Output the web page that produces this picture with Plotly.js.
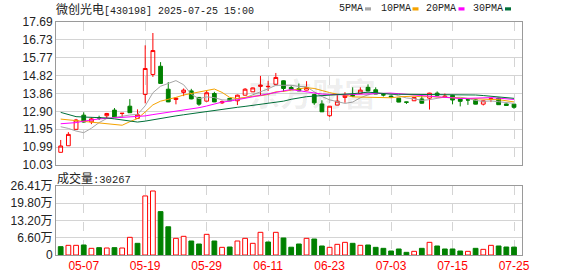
<!DOCTYPE html>
<html><head><meta charset="utf-8">
<script src="https://cdn.plot.ly/plotly-3.0.1.min.js"></script>
<style>html,body{margin:0;padding:0;background:#fff;}#chart{width:578px;height:276px;}</style>
</head><body><div id="chart"></div>
<script>
// ---- data ----
const dates = ['04-29','04-30','05-06','05-07','05-08','05-09','05-12','05-13','05-14','05-15',
 '05-16','05-19','05-20','05-21','05-22','05-23','05-26','05-27','05-28','05-29',
 '05-30','06-03','06-04','06-05','06-06','06-09','06-10','06-11','06-12','06-13',
 '06-16','06-17','06-18','06-19','06-20','06-23','06-24','06-25','06-26','06-27',
 '06-30','07-01','07-02','07-03','07-04','07-07','07-08','07-09','07-10','07-11',
 '07-14','07-15','07-16','07-17','07-18','07-21','07-22','07-23','07-24','07-25'];
const openP = [10.71,11.06,11.94,12.70,12.34,12.57,12.67,12.97,12.79,13.18,
 12.53,13.81,14.88,15.32,14.09,13.54,13.92,14.00,13.65,13.45,
 13.86,13.36,13.60,13.47,13.77,13.95,14.24,14.22,14.35,14.54,
 14.18,14.12,14.04,13.80,13.30,12.67,13.24,13.65,13.76,13.86,
 14.19,14.06,13.80,13.72,13.61,13.41,13.47,13.57,13.61,13.88,
 13.65,13.76,13.57,13.53,13.52,13.29,13.55,13.61,13.30,13.29];
const highP = [11.37,11.79,12.50,12.85,12.58,12.67,12.82,13.08,12.81,13.56,
 13.01,16.44,17.10,15.54,14.47,13.62,14.13,14.11,13.67,14.04,
 13.95,13.48,13.62,13.80,14.15,14.18,14.80,14.54,14.96,14.56,
 14.28,14.40,14.52,13.82,13.50,13.19,13.77,13.93,14.19,14.19,
 14.35,14.19,13.85,13.75,13.62,13.42,13.66,13.76,13.90,13.97,
 13.86,13.78,13.58,13.54,13.55,13.48,13.60,13.63,13.32,13.30];
const lowP = [10.70,11.05,11.93,12.30,12.22,12.44,12.53,12.55,12.58,12.82,
 12.50,13.33,14.75,14.38,13.40,13.28,13.72,13.55,13.20,13.44,
 13.40,13.30,13.45,13.24,13.76,13.94,13.77,13.99,14.34,13.95,
 14.05,13.98,14.03,13.25,12.87,12.61,13.23,13.36,13.68,13.85,
 13.98,13.85,13.70,13.66,13.39,13.30,13.46,13.32,13.00,13.74,
 13.63,13.28,13.17,13.25,13.28,13.22,13.40,13.25,13.20,13.04];
const closeP = [11.05,11.67,12.44,12.33,12.50,12.55,12.79,12.58,12.80,12.83,
 12.72,15.20,16.16,14.40,13.41,13.61,14.04,13.57,13.29,13.90,
 13.41,13.41,13.47,13.77,14.09,14.16,14.31,14.24,14.72,14.13,
 14.09,14.00,14.18,13.36,12.88,13.18,13.45,13.76,13.72,14.04,
 14.00,13.83,13.78,13.68,13.40,13.39,13.65,13.34,13.88,13.76,
 13.72,13.51,13.44,13.51,13.29,13.47,13.58,13.26,13.22,13.12];
const ma5 = [12.08,11.99,11.85,11.76,12.00,12.30,12.52,12.56,12.64,12.71,
 12.74,13.20,13.90,14.25,14.38,14.55,14.33,13.82,13.58,13.68,
 13.64,13.52,13.50,13.59,13.63,13.78,13.96,14.11,14.30,14.31,
 14.30,14.24,14.22,13.95,13.70,13.52,13.41,13.33,13.40,13.63,
 13.79,13.87,13.87,13.87,13.74,13.62,13.58,13.49,13.53,13.60,
 13.67,13.64,13.66,13.59,13.49,13.44,13.46,13.42,13.36,13.33];
const ma10 = [12.49,12.45,12.40,12.37,12.35,12.30,12.26,12.20,12.16,12.35,
 12.52,12.87,13.25,13.45,13.54,13.65,13.78,13.87,13.92,14.03,
 14.10,13.92,13.65,13.59,13.66,13.71,13.74,13.81,13.95,13.97,
 14.04,14.10,14.17,14.13,14.01,13.91,13.82,13.78,13.68,13.67,
 13.66,13.64,13.60,13.63,13.68,13.70,13.72,13.68,13.70,13.67,
 13.65,13.62,13.58,13.57,13.56,13.55,13.54,13.53,13.48,13.41];
const ma20 = [12.24,12.26,12.30,12.38,12.45,12.50,12.53,12.55,12.57,12.59,
 12.61,12.66,12.73,12.79,12.84,12.89,12.94,13.02,13.10,13.19,
 13.31,13.40,13.45,13.52,13.60,13.68,13.76,13.84,13.94,14.00,
 14.07,14.01,13.91,13.86,13.83,13.81,13.78,13.79,13.81,13.82,
 13.85,13.87,13.88,13.88,13.85,13.81,13.77,13.73,13.69,13.67,
 13.65,13.63,13.59,13.60,13.62,13.63,13.64,13.61,13.59,13.54];
const ma30 = [12.85,12.72,12.62,12.60,12.59,12.58,12.55,12.50,12.45,12.40,
 12.33,12.38,12.46,12.52,12.60,12.66,12.72,12.78,12.85,12.92,
 12.98,13.03,13.08,13.12,13.17,13.22,13.28,13.33,13.39,13.45,
 13.55,13.63,13.69,13.72,13.74,13.76,13.78,13.82,13.85,13.89,
 13.93,13.90,13.84,13.82,13.82,13.82,13.81,13.80,13.81,13.81,
 13.82,13.82,13.81,13.80,13.78,13.75,13.72,13.69,13.64,13.60];
const volume = [3.19,3.70,3.70,3.83,2.55,2.81,2.68,2.81,2.68,6.76,
 4.47,22.6,24.5,16.6,10.8,6.38,7.15,5.36,4.21,7.91,
 5.36,2.93,3.06,5.36,6.38,4.47,8.68,4.98,8.68,6.51,
 2.98,4.21,6.38,6.12,3.45,2.93,4.08,4.85,4.47,3.70,
 3.83,2.93,2.55,1.53,2.30,1.02,1.40,2.55,4.85,3.45,
 2.30,2.30,1.53,1.40,2.55,2.17,3.70,3.45,3.06,3.03];
const volDir = [-1,1,1,-1,1,-1,1,-1,1,1, -1,1,1,-1,-1,1,1,-1,-1,1,
 -1,1,-1,1,1,1,1,-1,1,-1, -1,-1,1,-1,-1,1,1,1,-1,1,
 -1,-1,-1,-1,-1,-1,1,-1,1,-1, -1,-1,-1,1,-1,1,1,-1,-1,-1];
const tickDates = ['05-07','05-19','05-29','06-11','06-23','07-03','07-15','07-25'];
const priceTicks = [10.03,10.99,11.95,12.90,13.86,14.82,15.77,16.73,17.69];
const priceTickText = ['10.03','10.99','11.95','12.90','13.86','14.82','15.77','16.73','17.69'];
const volTicks = [0,6.60,13.20,19.80,26.41];
const volTickText = ['0','6.60万','13.20万','19.80万','26.41万'];
const maNames = ['5PMA','10PMA','20PMA','30PMA'];
const maColors = ['#a6a6a6','#f5a300','#ff00ff','#00703a'];
const titleName = '微创光电';
const titleRest = '[430198] 2025-07-25 15:00';
const volLabel = '成交量';
const lastVol = '30267';

// ---- styles ----
const RED = '#ff0000', GREEN = '#008000';
const GRID = '#d4d4d4', FRAME = '#9a9a9a';
const mono = 'Liberation Mono, DejaVu Sans Mono, monospace';
const cjk = 'Noto Sans CJK SC';

const traces = [];
traces.push({
  type:'candlestick', x:dates, open:openP, high:highP, low:lowP, close:closeP,
  xaxis:'x', yaxis:'y', hoverinfo:'skip', whiskerwidth:0,
  increasing:{line:{color:RED,width:1}, fillcolor:'rgba(255,255,255,0)'},
  decreasing:{line:{color:GREEN,width:1}, fillcolor:GREEN}
});
[ma5, ma10, ma20, ma30].forEach((m,k)=>{
  traces.push({type:'scatter', mode:'lines', x:dates, y:m, xaxis:'x', yaxis:'y',
    line:{color:maColors[k], width:1}, hoverinfo:'skip'});
});
traces.push({
  type:'bar', x:dates, y:volume, xaxis:'x2', yaxis:'y2', width:0.62, hoverinfo:'skip',
  marker:{color:volDir.map(d=>d>0?'#ffffff':GREEN), line:{color:volDir.map(d=>d>0?RED:GREEN), width:1}}
});

const W=578, H=276, L=56, R=56, T=22, B=21;
const pw = W-L-R, ph = H-T-B;
const px = v => (v-L)/pw;
const py = v => (H-B-v)/ph;

const xBase = {type:'category', range:[-0.61,60.04], tickvals:tickDates, showgrid:true,
  gridcolor:GRID, griddash:'dash', gridwidth:1, showline:true, mirror:true, linecolor:FRAME,
  linewidth:1, ticks:'', zeroline:false, rangeslider:{visible:false}, fixedrange:true};
const yBase = {showgrid:true, gridcolor:GRID, gridwidth:1, showline:true, mirror:true,
  linecolor:FRAME, linewidth:1, ticks:'', zeroline:false, fixedrange:true,
  tickfont:{family:'Liberation Sans, '+cjk, size:12, color:'#222'}};

const annotations = [
  {xref:'paper', yref:'paper', x:px(54), y:py(8.5), xanchor:'left', yanchor:'middle', showarrow:false,
   text:'<span style="font-family:'+cjk+';font-size:12px">'+titleName+'</span>'+titleRest,
   font:{family:mono, size:10, color:'#222'}},
  {xref:'paper', yref:'paper', x:px(55), y:py(177), xanchor:'left', yanchor:'middle', showarrow:false,
   text:'<span style="font-family:'+cjk+';font-size:12px">'+volLabel+'</span>:'+lastVol,
   font:{family:mono, size:10.5, color:'#222'}},
  {xref:'paper', yref:'paper', x:px(312), y:py(92), xanchor:'center', yanchor:'middle', showarrow:false,
   text:'东方财富', font:{family:cjk, size:32, color:'rgba(0,0,0,0.07)', weight:'bold'}}
];
const legendX = [337, 379, 424, 471];
const markX = [365, 412.5, 458.5, 505];
const shapes = [];
maNames.forEach((n,k)=>{
  annotations.push({xref:'paper', yref:'paper', x:px(legendX[k]), y:py(8.7), xanchor:'left', yanchor:'middle',
    showarrow:false, text:n, font:{family:mono, size:10, color:'#222'}});
  shapes.push({type:'rect', xref:'paper', yref:'paper', x0:px(markX[k]), x1:px(markX[k]+6),
    y0:py(10.5), y1:py(7.3), fillcolor:maColors[k], line:{width:0}});
});

const layout = {
  width:W, height:H, margin:{l:L, r:R, t:T, b:B, pad:0}, paper_bgcolor:'#fff', plot_bgcolor:'#fff',
  showlegend:false, font:{family:'Liberation Sans', size:12, color:'#222'},
  xaxis:Object.assign({}, xBase, {anchor:'y', showticklabels:false}),
  xaxis2:Object.assign({}, xBase, {anchor:'y2', ticktext:tickDates,
    tickfont:{family:'Liberation Sans', size:12, color:RED}}),
  yaxis:Object.assign({}, yBase, {domain:[py(165),1], range:[10.03,17.69], tickvals:priceTicks, ticktext:priceTickText}),
  yaxis2:Object.assign({}, yBase, {domain:[0,py(186)], range:[0,26.41], tickvals:volTicks, ticktext:volTickText}),
  annotations, shapes
};
Plotly.newPlot('chart', traces, layout, {staticPlot:true, displayModeBar:false});
</script></body></html>
